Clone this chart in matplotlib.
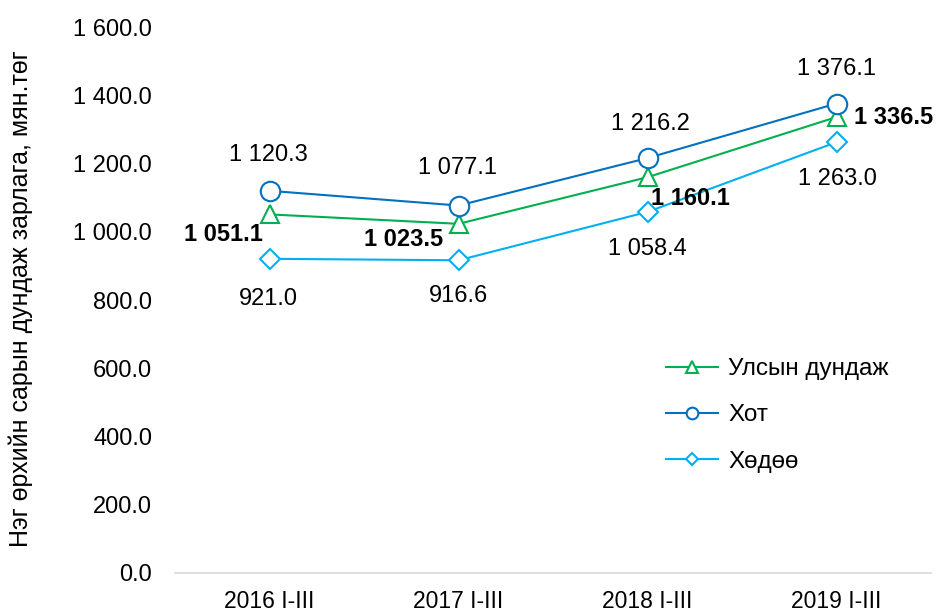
import matplotlib
import matplotlib.pyplot as plt

matplotlib.use("Agg")
plt.rcParams['font.family'] = ['Liberation Sans', 'DejaVu Sans']

# ==============================================================================
periods = ['2016 I-III', '2017 I-III', '2018 I-III', '2019 I-III']
national = [1051.1, 1023.5, 1160.1, 1336.5]
urban = [1120.3, 1077.1, 1216.2, 1376.1]
rural = [921.0, 916.6, 1058.4, 1263.0]
series_names = ['Улсын дундаж', 'Хот', 'Хөдөө']
y_ticks = [0, 200, 400, 600, 800, 1000, 1200, 1400, 1600]
y_title = 'Нэг өрхийн сарын дундаж зарлага, мян.төг'


def fmt(v):
    # space as thousands separator, one decimal
    return f'{v:,.1f}'.replace(',', ' ')


fig = plt.figure(figsize=(9.38, 6.14), dpi=100)
ax = fig.add_axes([0.1866, 0.0668, 0.806, 0.889])

x = list(range(len(periods)))
color_nat = '#00B050'
color_urb = '#0070C0'
color_rur = '#00B0F0'
label_size = 17

ax.plot(x, national, '-', c=color_nat, lw=1.5, marker='^', markersize=13.5,
        markerfacecolor='white', markeredgewidth=1.5, label=series_names[0], zorder=3)
ax.plot(x, urban, '-', c=color_urb, lw=1.5, marker='o', markersize=14,
        markerfacecolor='white', markeredgewidth=1.5, label=series_names[1], zorder=3)
ax.plot(x, rural, '-', c=color_rur, lw=1.5, marker='D', markersize=10.5,
        markerfacecolor='white', markeredgewidth=1.5, label=series_names[2], zorder=3)

# offsets in pixels (dx, dy up positive)
px = 72 / 100
urb_off = [(-1, 36), (-1, 38), (3, 34), (0, 35)]
nat_off = [(-46, -20), (-55, -16), (43, -21), (57, 0)]
rur_off = [(-1, -40), (0, -36), (0, -37), (1, -37)]

for i in x:
    ax.annotate(fmt(urban[i]), (i, urban[i]), xytext=(urb_off[i][0] * px, urb_off[i][1] * px),
                textcoords='offset points', ha='center', va='center', fontsize=label_size)
    ax.annotate(fmt(national[i]), (i, national[i]), xytext=(nat_off[i][0] * px, nat_off[i][1] * px),
                textcoords='offset points', ha='center', va='center', fontsize=label_size,
                fontweight='bold')
    ax.annotate(fmt(rural[i]), (i, rural[i]), xytext=(rur_off[i][0] * px, rur_off[i][1] * px),
                textcoords='offset points', ha='center', va='center', fontsize=label_size)

ax.set_xlim(-0.5, 3.5)
ax.set_ylim(0, 1600)
ax.set_yticks(y_ticks)
ax.set_yticklabels([fmt(v) for v in y_ticks], fontsize=label_size)
ax.set_xticks(x)
ax.set_xticklabels(periods, fontsize=16.5,
                   family=['Liberation Sans Narrow', 'Liberation Sans', 'DejaVu Sans'])
ax.tick_params(axis='both', length=0, colors='black')
ax.tick_params(axis='y', pad=16.5)
ax.tick_params(axis='x', pad=12.5)

for side in ['top', 'right', 'left']:
    ax.spines[side].set_visible(False)
ax.spines['bottom'].set_color('#D9D9D9')
ax.spines['bottom'].set_linewidth(1.2)

fig.text(0.022, 0.513, y_title, rotation=90, ha='center', va='center', fontsize=18)

leg = ax.legend(loc='upper left', bbox_to_anchor=(654 / 938, 1 - 346 / 614),
                bbox_transform=fig.transFigure, frameon=False, fontsize=17.5,
                handlelength=2.15, labelspacing=1.0, handletextpad=0.4, borderpad=0)
for line in leg.get_lines():
    line.set_markersize(line.get_markersize() * 0.6)

fig.savefig('out.png', dpi=100)
